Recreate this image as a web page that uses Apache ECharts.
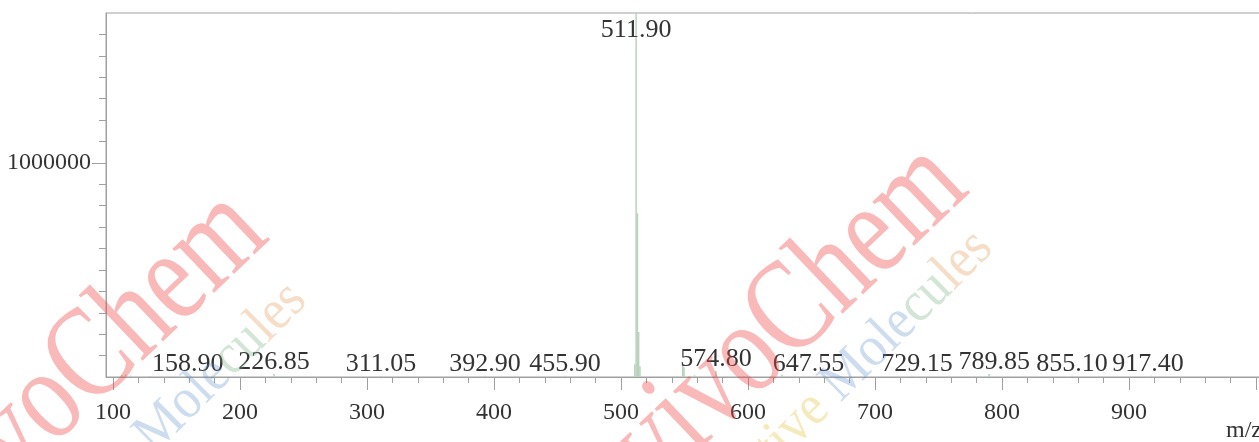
<!DOCTYPE html>
<html>
<head>
<meta charset="utf-8">
<script src="https://cdn.jsdelivr.net/npm/echarts@6/dist/echarts.min.js"></script>
<style>
html,body{margin:0;padding:0;background:#fff;}
#chart{width:1259px;height:442px;}
</style>
</head>
<body>
<div id="chart"></div>
<script>
// ---- data ----
const peakMz = [106.9, 109.9, 113.9, 128.9, 158.9, 226.85, 311.05, 392.9, 455.9, 510.9, 511.9, 512.9, 513.9, 514.9, 548.6, 549.6, 558.0, 574.8, 626.8, 647.55, 729.15, 789.85, 855.1, 917.4];
const peakIntensity = [9000, 12000, 7000, 5000, 5000, 14000, 5000, 6000, 6000, 60000, 1700000, 765000, 210000, 50000, 55000, 45000, 8000, 28000, 12000, 5000, 6000, 14000, 6000, 6000];
const peakLabels = ["", "", "", "", "158.90", "226.85", "311.05", "392.90", "455.90", "", "511.90", "", "", "", "", "", "", "574.80", "", "647.55", "729.15", "789.85", "855.10", "917.40"];
const labelShift = [0, 0, 0, 0, 0, 0, 0, 0, 0, 0, 0, 0, 0, 0, 0, 0, 0, 0, 0, 0, 5, 5, 0, -3];
const xMajorTicks = [100, 200, 300, 400, 500, 600, 700, 800, 900, 1000];
const xTickLabels = [100, 200, 300, 400, 500, 600, 700, 800, 900];
const xMinorTicks = [120, 140, 160, 180, 220, 240, 260, 280, 320, 340, 360, 380, 420, 440, 460, 480, 520, 540, 560, 580, 620, 640, 660, 680, 720, 740, 760, 780, 820, 840, 860, 880, 920, 940, 960, 980];
const yMajorTicks = [1000000];
const yMinorTicks = [100000, 200000, 300000, 400000, 500000, 600000, 700000, 800000, 900000, 1100000, 1200000, 1300000, 1400000, 1500000, 1600000];
const xMin = 94.5, xMax = 1004.7, yMin = 0, yMax = 1700000;

const FONT = 'Liberation Serif';
const axisGray = '#a0a0a0';
const textColor = '#333333';

const chart = echarts.init(document.getElementById('chart'), null, {renderer: 'canvas'});

const seriesData = peakMz.map((m, i) => {
  const item = {value: [m, peakIntensity[i]]};
  if (peakLabels[i]) {
    item.label = {show: true, formatter: peakLabels[i], offset: [labelShift[i], 0]};
    if (peakIntensity[i] >= yMax) {
      item.label.position = 'insideTop';
      item.label.distance = 4;
    }
  } else {
    item.label = {show: false};
  }
  return item;
});

function watermark(ex, ey, mx, my) {
  return [
    {
      type: 'text', x: ex, y: ey, rotation: 0.76, scaleX: 0.95, scaleY: 1.2, z: 100, silent: true,
      style: {text: 'InvivoChem', font: '110px "Liberation Serif"', fill: 'rgba(240,70,70,0.38)', align: 'right', verticalAlign: 'bottom'}
    },
    {
      type: 'text', x: mx, y: my, rotation: 0.78, scaleY: 1.1, z: 100, silent: true,
      style: {
        text: '{y|Bioactive }{b|Mole}{g|cu}{o|les}', align: 'right', verticalAlign: 'bottom',
        font: '52px "Liberation Serif"',
        rich: {
          y: {fill: 'rgba(225,195,60,0.35)', font: '52px "Liberation Serif"'},
          b: {fill: 'rgba(90,140,200,0.30)', font: '52px "Liberation Serif"'},
          g: {fill: 'rgba(110,170,120,0.30)', font: '52px "Liberation Serif"'},
          o: {fill: 'rgba(225,150,80,0.32)', font: '52px "Liberation Serif"'}
        }
      }
    }
  ];
}

const plainNum = v => String(Math.round(v));

const option = {
  animation: false,
  backgroundColor: '#ffffff',
  textStyle: {fontFamily: FONT},
  grid: {left: 106, top: 13, right: -3, bottom: 65, show: true, borderColor: axisGray, borderWidth: 1, containLabel: false, outerBoundsMode: 'none'},
  xAxis: [
    {
      type: 'value', min: xMin, max: xMax,
      axisLine: {show: true, lineStyle: {color: axisGray}},
      axisTick: {show: true, customValues: xMajorTicks, length: 13, lineStyle: {color: axisGray}},
      axisLabel: {show: true, customValues: xTickLabels, formatter: plainNum, margin: 24, color: textColor, fontSize: 24, fontFamily: FONT},
      splitLine: {show: false}
    },
    {
      type: 'value', min: xMin, max: xMax, position: 'bottom',
      axisLine: {show: false},
      axisTick: {show: true, customValues: xMinorTicks, length: 6, lineStyle: {color: axisGray}},
      axisLabel: {show: false},
      splitLine: {show: false}
    }
  ],
  yAxis: [
    {
      type: 'value', min: yMin, max: yMax,
      axisLine: {show: true, lineStyle: {color: axisGray}},
      axisTick: {show: true, customValues: yMinorTicks, length: 7, lineStyle: {color: axisGray}},
      axisLabel: {show: false},
      splitLine: {show: false}
    },
    {
      type: 'value', min: yMin, max: yMax, position: 'left',
      axisLine: {show: false},
      axisTick: {show: true, customValues: yMajorTicks, length: 14, lineStyle: {color: axisGray}},
      axisLabel: {show: true, customValues: yMajorTicks, formatter: plainNum, margin: 15, color: textColor, fontSize: 24, fontFamily: FONT},
      splitLine: {show: false}
    }
  ],
  series: [
    {
      type: 'bar', xAxisIndex: 0, yAxisIndex: 0,
      barWidth: 1.5,
      clip: true,
      itemStyle: {color: '#b9d2bc'},
      label: {show: true, position: 'top', distance: -1, color: textColor, fontSize: 26, fontFamily: FONT},
      data: seriesData
    }
  ],
  graphic: [
    ...watermark(293, 261, 318, 312),
    ...watermark(993, 214, 1004, 260),
    {type: 'text', left: 1226, top: 419, z: 50, style: {text: 'm/z', font: '24px "Liberation Serif"', fill: textColor}}
  ]
};

chart.setOption(option);
</script>
</body>
</html>
